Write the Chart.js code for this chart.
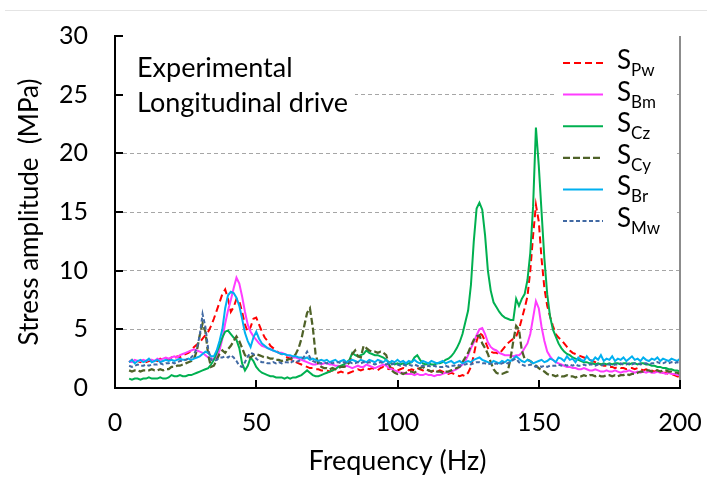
<!DOCTYPE html>
<html>
<head>
<meta charset="utf-8">
<script src="https://cdn.jsdelivr.net/npm/chart.js@4.4.1/dist/chart.umd.min.js"></script>
<style>
  html, body { margin: 0; padding: 0; background: #ffffff; }
  canvas { display: block; }
</style>
</head>
<body>
<canvas id="c" width="712" height="477"></canvas>
<script>
// Frequency grid (Hz)
const freq = [
  5,6,7,8,9,10,11,12,13,14,
  15,16,17,18,19,20,21,22,23,24,
  25,26,27,28,29,30,31,32,33,34,
  35,36,37,38,39,40,41,42,43,44,
  45,46,47,48,49,50,51,52,53,54,
  55,56,57,58,59,60,61,62,63,64,
  65,66,67,68,69,70,71,72,73,74,
  75,76,77,78,79,80,81,82,83,84,
  85,86,87,88,89,90,91,92,93,94,
  95,96,97,98,99,100,101,102,103,104,
  105,106,107,108,109,110,111,112,113,114,
  115,116,117,118,119,120,121,122,123,124,
  125,126,127,128,129,130,131,132,133,134,
  135,136,137,138,139,140,141,142,143,144,
  145,146,147,148,149,150,151,152,153,154,
  155,156,157,158,159,160,161,162,163,164,
  165,166,167,168,169,170,171,172,173,174,
  175,176,177,178,179,180,181,182,183,184,
  185,186,187,188,189,190,191,192,193,194,
  195,196,197,198,199,200
];

const sPw = [
  2.2,2.4,2.1,2.3,2.2,2.4,2.2,2.3,2.3,2.4,
  2.3,2.5,2.4,2.5,2.4,2.6,2.5,2.7,2.6,2.8,
  2.9,3.0,3.2,3.5,3.7,3.9,4.2,4.5,4.8,5.3,
  5.9,6.6,7.3,8.0,8.4,7.6,6.5,6.9,7.6,7.4,
  6.5,5.4,4.8,5.2,5.9,6.0,5.4,4.8,4.3,4.0,
  3.6,3.4,3.2,3.0,2.9,2.7,2.6,2.5,2.3,2.2,
  2.1,2.0,1.9,1.8,1.7,1.7,1.6,1.6,1.5,1.5,
  1.5,1.4,1.5,1.4,1.3,1.4,1.3,1.2,1.3,1.4,
  1.5,1.6,1.5,1.6,1.7,1.6,1.7,1.6,1.5,1.7,
  1.8,1.7,1.6,1.7,1.6,1.5,1.6,1.7,1.6,1.5,
  1.6,1.5,1.7,1.6,1.5,1.6,1.5,1.4,1.5,1.4,
  1.5,1.4,1.3,1.2,1.3,1.2,1.1,1.0,1.1,1.0,
  1.3,1.8,2.8,4.0,4.7,4.5,4.0,3.4,3.1,3.0,
  3.0,2.9,3.2,3.5,3.8,4.0,4.2,4.4,5.0,5.9,
  6.8,7.8,10.0,13.0,15.6,14.2,11.0,8.5,7.0,6.1,
  5.3,4.6,4.3,4.1,3.8,3.5,3.2,3.0,2.9,2.8,
  2.7,2.6,2.5,2.4,2.3,2.2,2.1,2.0,1.9,1.9,
  1.8,1.8,1.7,1.8,1.7,1.7,1.6,1.7,1.7,1.6,
  1.7,1.6,1.5,1.6,1.5,1.5,1.4,1.5,1.4,1.3,
  1.3,1.2,1.2,1.1,1.0,0.9
];

const sBm = [
  2.3,2.2,2.4,2.3,2.3,2.4,2.3,2.4,2.4,2.3,
  2.5,2.4,2.5,2.6,2.5,2.6,2.7,2.6,2.8,2.9,
  3.0,3.1,3.2,3.3,3.2,3.1,3.0,2.8,2.6,2.5,
  2.5,2.6,3.2,4.2,5.5,6.6,7.5,8.5,9.4,8.9,
  7.8,6.5,5.4,4.8,4.4,4.1,3.8,3.6,3.5,3.4,
  3.3,3.2,3.1,3.0,3.0,2.9,2.8,2.7,2.6,2.6,
  2.5,2.4,2.3,2.2,2.1,2.0,2.0,2.1,2.0,2.1,
  2.1,2.0,2.0,1.9,1.9,1.8,1.8,1.9,1.8,1.7,
  1.8,1.9,1.8,1.8,2.0,1.9,1.8,1.7,1.8,1.9,
  2.0,1.9,1.7,1.6,1.5,1.4,1.3,1.3,1.2,1.2,
  1.2,1.1,1.2,1.1,1.1,1.2,1.1,1.1,1.0,1.1,
  1.1,1.2,1.3,1.3,1.4,1.5,1.6,1.8,2.0,2.3,
  2.8,3.4,3.9,4.5,5.0,5.1,4.6,3.9,3.5,3.3,
  3.2,3.0,2.9,2.8,2.8,2.8,2.7,2.8,2.8,3.0,
  3.4,3.8,4.6,6.0,7.4,6.8,5.2,4.0,3.1,2.7,
  2.4,2.2,2.1,2.0,1.9,1.8,1.8,1.7,1.7,1.6,
  1.6,1.7,1.6,1.5,1.5,1.6,1.5,1.4,1.4,1.5,
  1.4,1.4,1.5,1.4,1.3,1.4,1.4,1.5,1.4,1.3,
  1.4,1.3,1.4,1.3,1.4,1.3,1.3,1.4,1.3,1.3,
  1.2,1.3,1.2,1.2,1.1,1.1
];

const sCz = [
  0.8,0.7,0.8,0.8,0.7,0.8,0.8,0.9,0.8,0.8,
  0.8,0.9,0.8,0.8,0.9,1.1,1.0,1.0,1.1,1.0,
  1.0,1.1,1.1,1.2,1.3,1.4,1.5,1.6,1.7,2.0,
  2.4,3.0,3.6,4.3,4.8,4.9,4.6,4.3,4.1,3.4,
  2.1,1.5,1.9,2.6,2.3,1.8,1.5,1.3,1.2,1.1,
  1.0,1.0,0.9,0.9,0.9,0.8,0.9,0.8,0.9,0.9,
  1.0,1.1,1.3,1.5,1.3,1.1,1.0,1.0,1.1,1.2,
  1.3,1.4,1.5,1.6,1.8,1.9,2.0,2.2,2.4,3.0,
  2.8,2.7,2.8,2.9,3.2,3.0,2.9,2.8,2.8,2.7,
  2.6,2.4,2.2,2.1,2.0,2.1,2.0,2.1,2.0,2.1,
  2.2,2.6,2.8,2.4,2.1,2.0,2.1,2.0,2.0,2.1,
  2.1,2.2,2.4,2.5,2.7,3.0,3.4,3.9,4.6,5.6,
  6.6,8.8,12.5,15.3,15.8,15.2,13.0,10.0,8.3,7.3,
  6.9,6.5,6.2,6.0,5.9,5.8,5.8,7.6,7.0,7.6,
  8.0,9.2,11.5,15.5,22.2,19.0,15.0,11.0,8.0,6.1,
  5.0,4.4,3.8,3.4,3.1,2.9,2.8,2.6,2.5,2.4,
  2.3,2.2,2.2,2.1,2.1,2.0,2.1,2.0,2.1,2.0,
  2.1,2.0,2.1,2.1,2.0,2.1,2.1,2.0,2.1,2.1,
  2.0,2.1,2.1,2.0,2.0,1.9,1.9,1.8,1.8,1.7,
  1.7,1.6,1.6,1.5,1.5,1.4
];

const sCy = [
  1.5,1.4,1.5,1.5,1.4,1.5,1.5,1.5,1.6,1.5,
  1.5,1.6,1.5,1.6,1.6,1.8,1.8,1.9,1.9,2.0,
  2.1,2.2,2.3,2.5,3.2,4.5,5.5,4.8,2.8,1.8,
  1.9,2.4,2.9,3.2,3.0,3.3,3.6,4.0,4.4,4.0,
  3.4,2.8,2.6,2.6,2.8,2.9,2.8,2.7,2.6,2.6,
  2.5,2.5,2.4,2.4,2.3,2.4,2.4,2.5,2.6,2.9,
  3.4,4.2,5.3,6.4,6.8,5.2,2.9,2.0,1.8,1.7,
  1.7,1.6,1.7,1.6,1.7,1.8,1.8,1.9,2.2,2.9,
  3.2,2.7,2.6,3.6,3.4,3.2,3.1,3.1,3.0,3.1,
  3.0,2.8,2.0,1.5,1.3,1.2,1.3,1.2,1.3,1.4,
  1.4,1.3,1.5,1.7,1.8,1.6,1.5,1.4,1.5,1.4,
  1.4,1.3,1.4,1.4,1.5,1.6,1.7,1.8,2.2,2.6,
  3.0,3.6,4.1,4.4,4.5,3.8,3.4,2.9,2.2,1.6,
  1.3,1.2,1.2,1.3,1.4,2.5,4.0,5.3,5.0,3.2,
  2.5,2.4,2.3,2.1,1.9,1.7,1.5,1.4,1.2,1.1,
  1.1,1.0,1.1,1.0,1.0,1.1,1.0,1.0,0.9,1.0,
  1.0,1.1,1.0,1.1,1.1,1.0,1.1,1.0,1.0,1.1,
  1.1,1.0,1.1,1.0,1.1,1.1,1.2,1.1,1.2,1.2,
  1.3,1.4,1.4,1.5,1.5,1.4,1.5,1.5,1.4,1.5,
  1.5,1.4,1.4,1.3,1.3,1.2
];

const sBr = [
  2.2,2.4,2.1,2.3,2.4,2.2,2.3,2.5,2.2,2.3,
  2.4,2.2,2.3,2.4,2.3,2.4,2.3,2.4,2.5,2.4,
  2.4,2.5,2.4,2.5,2.6,2.7,2.9,3.1,3.0,2.7,
  2.7,3.2,4.0,5.0,6.8,7.9,8.2,8.1,7.7,7.0,
  5.9,4.7,4.0,3.5,4.3,4.8,4.2,3.8,3.6,3.4,
  3.3,3.2,3.1,3.0,2.9,2.9,2.8,2.8,2.7,2.7,
  2.6,2.6,2.5,2.6,2.4,2.5,2.4,2.3,2.4,2.3,
  2.4,2.2,2.3,2.4,2.2,2.3,2.4,2.2,2.3,2.4,
  2.3,2.2,2.4,2.3,2.2,2.4,2.3,2.2,2.4,2.3,
  2.2,2.4,2.1,2.3,2.2,2.4,2.2,2.3,2.1,2.3,
  2.2,2.4,2.2,2.1,2.3,2.2,2.1,2.3,2.2,2.1,
  2.2,2.3,2.1,2.2,2.3,2.1,2.2,2.3,2.1,2.2,
  2.3,2.2,2.4,2.5,2.6,2.4,2.3,2.2,2.1,2.3,
  2.2,2.1,2.3,2.2,2.4,2.3,2.5,2.7,2.5,2.3,
  2.2,2.4,2.3,2.1,2.2,2.3,2.4,2.2,2.3,2.5,
  2.4,2.2,2.6,2.5,2.3,2.7,2.4,2.5,2.2,2.6,
  2.4,2.3,2.7,2.4,2.3,2.6,2.4,2.8,2.3,2.5,
  2.4,2.7,2.3,2.5,2.4,2.6,2.3,2.5,2.7,2.4,
  2.5,2.3,2.6,2.4,2.3,2.5,2.4,2.6,2.3,2.5,
  2.4,2.3,2.5,2.4,2.3,2.5
];

const sMw = [
  1.9,1.8,1.9,2.0,1.9,1.9,2.0,1.9,2.0,2.0,
  2.0,2.1,2.0,2.1,2.1,2.2,2.1,2.2,2.3,2.3,
  2.4,2.5,2.6,2.9,3.4,4.5,6.3,5.2,3.3,2.4,
  2.3,2.4,2.6,2.6,2.7,2.6,2.8,2.6,2.3,1.9,
  1.8,2.2,2.7,3.0,2.9,2.5,2.3,2.2,2.2,2.1,
  2.1,2.2,2.1,2.2,2.1,2.2,2.2,2.1,2.3,2.2,
  2.3,2.4,2.7,3.1,2.6,2.3,2.2,2.2,2.1,2.2,
  2.1,2.2,2.1,2.2,2.2,2.1,2.2,2.1,2.2,2.1,
  2.1,2.2,2.1,2.2,2.1,2.2,2.1,2.0,2.1,2.2,
  2.1,2.0,2.1,2.0,2.1,2.0,1.9,2.0,1.9,2.0,
  1.9,2.0,1.9,1.8,1.9,1.8,1.9,1.8,1.9,1.8,
  1.8,1.8,1.9,1.8,1.9,1.9,2.0,1.9,2.0,2.0,
  2.1,2.0,2.1,2.2,2.2,2.1,2.1,2.0,2.1,2.0,
  2.1,2.0,2.1,2.2,2.1,2.2,2.4,2.5,2.2,2.0,
  1.9,1.9,2.0,1.9,1.8,1.9,1.8,1.9,1.8,1.9,
  1.9,1.9,2.0,1.9,2.0,1.9,2.0,1.9,2.0,1.9,
  1.9,2.0,1.9,2.0,2.0,1.9,2.0,1.9,2.0,2.0,
  2.0,1.9,2.0,2.0,2.1,2.0,2.0,2.1,2.0,2.1,
  2.1,2.0,2.1,2.1,2.0,2.1,2.1,2.2,2.1,2.1,
  2.2,2.1,2.2,2.1,2.2,2.1
];

const seriesSubs   = ['Pw', 'Bm', 'Cz', 'Cy', 'Br', 'Mw'];
const seriesValues = [sPw, sBm, sCz, sCy, sBr, sMw];
const seriesColors = ['#FF0000', '#FF3CFF', '#00B050', '#4F6228', '#00B0F0', '#4169A3'];
const seriesDash   = [[7, 4], [], [], [7, 3], [], [4, 2.5]];
const seriesWidth  = [2, 2, 2, 2.25, 2, 2];

const yTicks = [0, 5, 10, 15, 20, 25, 30];
const xTicks = [0, 50, 100, 150, 200];
const noteLines = ['Experimental', 'Longitudinal drive'];
const xTitle = 'Frequency (Hz)';
const yTitle = 'Stress amplitude  (MPa)';

const FONT = 'Lato, "Open Sans", sans-serif';

const datasets = seriesValues.map((vals, i) => ({
  label: 'S' + seriesSubs[i],
  data: vals.map((v, k) => ({ x: freq[k], y: v })),
  borderColor: seriesColors[i],
  backgroundColor: seriesColors[i],
  borderDash: seriesDash[i],
  borderWidth: seriesWidth[i],
  pointRadius: 0,
  tension: 0,
  fill: false,
  order: seriesValues.length - i
}));

const decor = {
  id: 'decor',
  beforeDraw(chart) {
    const ctx = chart.ctx;
    ctx.save();
    ctx.strokeStyle = '#E4E4E4';
    ctx.lineWidth = 1;
    ctx.beginPath();
    ctx.moveTo(5, 10.5);
    ctx.lineTo(707, 10.5);
    ctx.stroke();
    ctx.restore();
  },
  beforeDatasetsDraw(chart) {
    const ctx = chart.ctx;
    const a = chart.chartArea;
    ctx.save();
    ctx.fillStyle = '#ffffff';
    // white boxes behind the note text and legend (cover grid lines)
    ctx.fillRect(a.left + 4, a.top + 6, 236, 80);
    ctx.fillRect(a.right - 124, a.top + 4, 121, 200);
    ctx.restore();
  },
  afterDraw(chart) {
    const ctx = chart.ctx;
    const a = chart.chartArea;
    const xs = chart.scales.x, ys = chart.scales.y;
    ctx.save();
    // right border
    ctx.strokeStyle = '#8C8C8C';
    ctx.lineWidth = 2;
    ctx.beginPath();
    ctx.moveTo(a.right, a.top);
    ctx.lineTo(a.right, a.bottom);
    ctx.stroke();
    // inward tick marks
    ctx.strokeStyle = '#000';
    ctx.lineWidth = 2;
    yTicks.forEach(v => {
      const y = Math.round(ys.getPixelForValue(v));
      ctx.beginPath();
      ctx.moveTo(a.left, y);
      ctx.lineTo(a.left + 8, y);
      ctx.stroke();
    });
    xTicks.forEach(v => {
      const x = Math.round(xs.getPixelForValue(v));
      ctx.beginPath();
      ctx.moveTo(x, a.bottom);
      ctx.lineTo(x, a.bottom - 8);
      ctx.stroke();
    });
    // axis titles
    ctx.fillStyle = '#000';
    ctx.font = '27px ' + FONT;
    ctx.textAlign = 'center';
    ctx.textBaseline = 'middle';
    ctx.fillText(xTitle, (a.left + a.right) / 2, 461);
    ctx.save();
    ctx.font = '26px ' + FONT;
    ctx.translate(30, (a.top + a.bottom) / 2);
    ctx.rotate(-Math.PI / 2);
    ctx.fillText(yTitle, 0, 0);
    ctx.restore();
    // note text
    ctx.textAlign = 'left';
    ctx.font = '27px ' + FONT;
    ctx.fillText(noteLines[0], a.left + 22, a.top + 32);
    ctx.fillText(noteLines[1], a.left + 22, a.top + 67);
    // legend
    const lx0 = a.right - 117, lx1 = a.right - 77;
    seriesSubs.forEach((sub, i) => {
      const y = a.top + 27 + i * 31.6;
      ctx.strokeStyle = seriesColors[i];
      ctx.lineWidth = seriesWidth[i];
      ctx.setLineDash(seriesDash[i]);
      ctx.beginPath();
      ctx.moveTo(lx0, y);
      ctx.lineTo(lx1, y);
      ctx.stroke();
      ctx.setLineDash([]);
      ctx.fillStyle = '#000';
      ctx.textBaseline = 'alphabetic';
      ctx.font = '26px ' + FONT;
      ctx.fillText('S', lx1 + 14, y + 6);
      const w = ctx.measureText('S').width;
      ctx.font = '17px ' + FONT;
      ctx.fillText(sub, lx1 + 14 + w, y + 13);
    });
    ctx.restore();
  }
};

new Chart(document.getElementById('c'), {
  type: 'line',
  data: { datasets },
  options: {
    responsive: false,
    animation: false,
    devicePixelRatio: 1,
    layout: { autoPadding: false, padding: { top: 36, right: 32, left: 0, bottom: 0 } },
    plugins: { legend: { display: false }, tooltip: { enabled: false }, title: { display: false } },
    scales: {
      x: {
        type: 'linear', min: 0, max: 200,
        afterBuildTicks(s) { s.ticks = xTicks.map(v => ({ value: v })); },
        ticks: { color: '#000', font: { family: FONT, size: 25 }, padding: 20, maxRotation: 0, autoSkip: false },
        grid: { display: false, drawTicks: false },
        border: { display: true, color: '#000', width: 2 },
        afterFit(s) { s.height = 89; s.paddingLeft = 0; s.paddingRight = 0; }
      },
      y: {
        type: 'linear', min: 0, max: 30,
        afterBuildTicks(s) { s.ticks = yTicks.map(v => ({ value: v })); },
        ticks: { color: '#000', font: { family: FONT, size: 25 }, padding: 27 },
        grid: {
          drawTicks: false, lineWidth: 1,
          color: c => (c.tick && (c.tick.value === 0 || c.tick.value === 30)) ? 'rgba(0,0,0,0)' : '#A6A6A6'
        },
        border: { display: true, color: '#000', width: 2, dash: [4, 3] },
        afterFit(s) { s.width = 115; s.paddingTop = 0; s.paddingBottom = 0; }
      }
    }
  },
  plugins: [decor]
});
</script>
</body>
</html>
